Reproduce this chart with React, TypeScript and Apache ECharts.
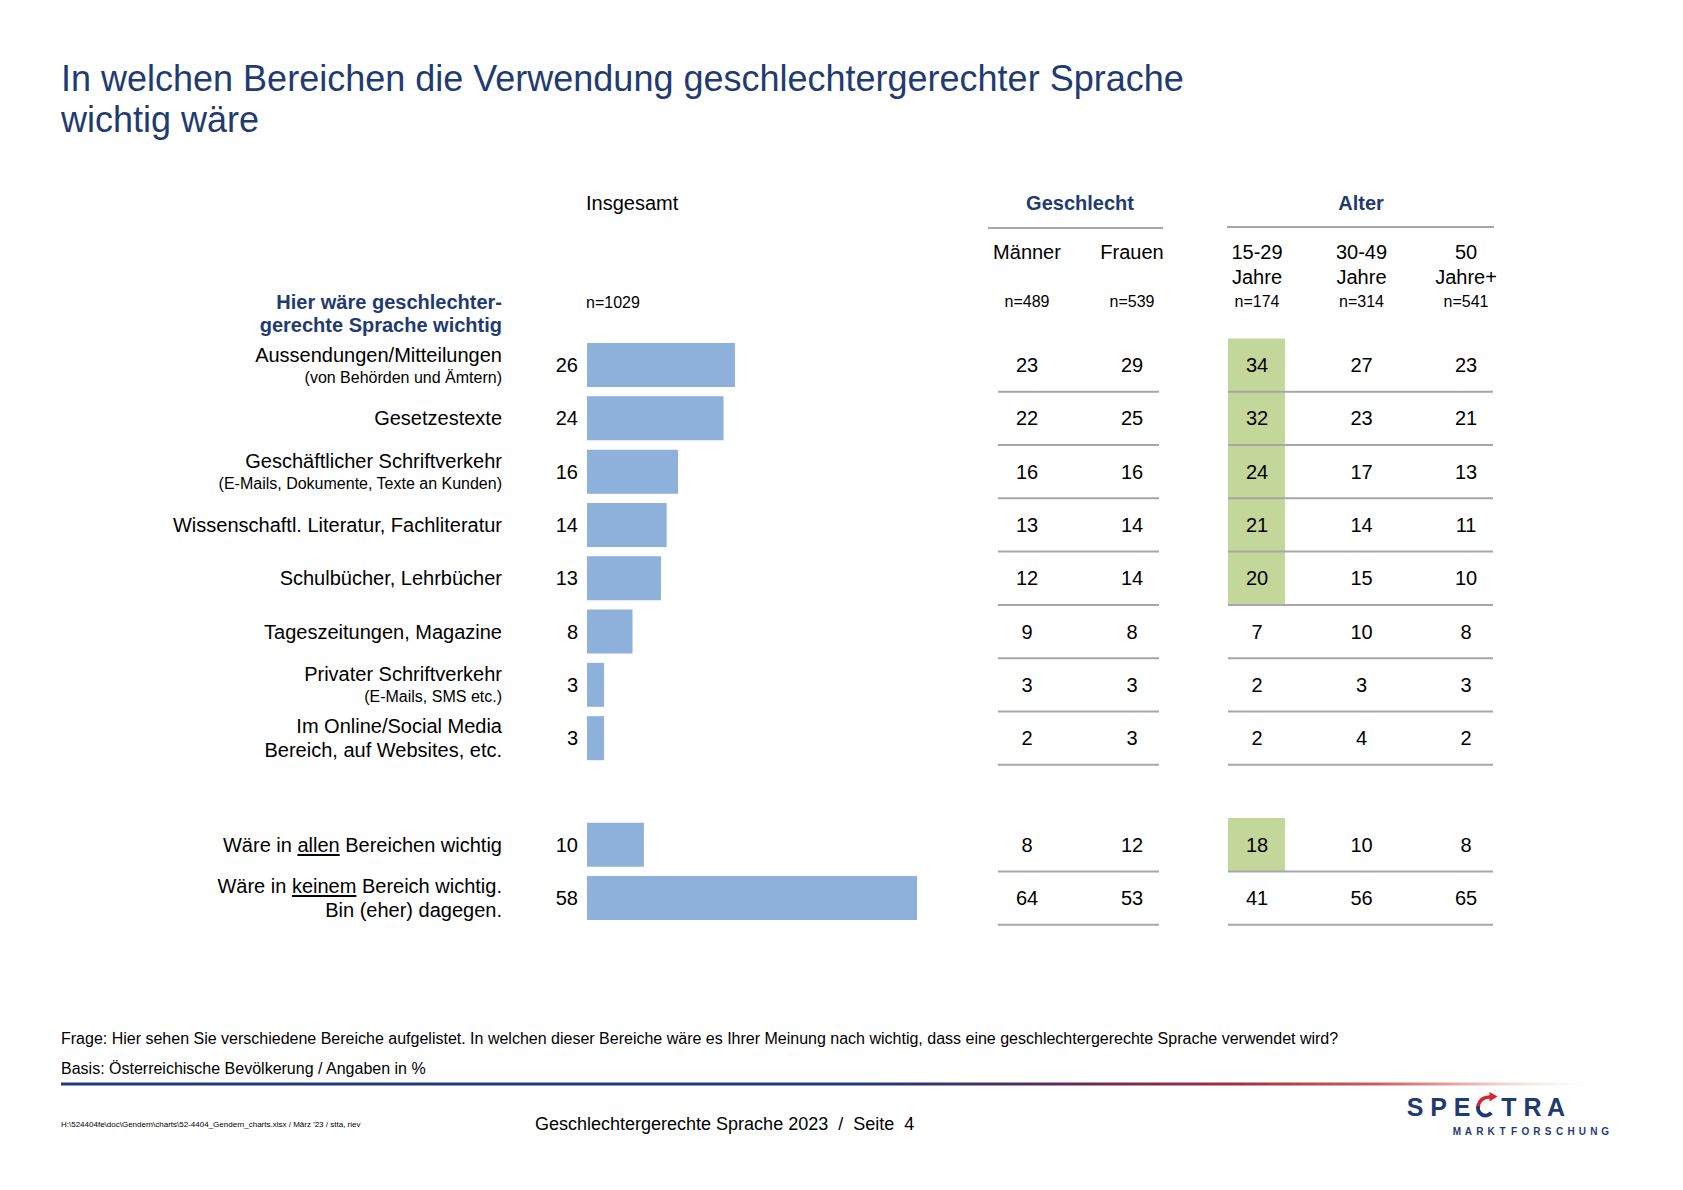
import React, { useEffect, useRef } from 'react';
import * as echarts from 'echarts';

const FONT = '"Liberation Sans", Arial, Helvetica, sans-serif';
const NAVY = '#1f3b72';
const BAR = '#8db1da';
const GREEN = '#c4d79b';
const RULE = '#a6a6a6';

// ---- data ----
const rowMain: string[][] = [
  ['Aussendungen/Mitteilungen'],
  ['Gesetzestexte'],
  ['Geschäftlicher Schriftverkehr'],
  ['Wissenschaftl. Literatur, Fachliteratur'],
  ['Schulbücher, Lehrbücher'],
  ['Tageszeitungen, Magazine'],
  ['Privater Schriftverkehr'],
  ['Im Online/Social Media', 'Bereich, auf Websites, etc.'],
  [],
  ['Wäre in _allen_ Bereichen wichtig'],
  ['Wäre in _keinem_ Bereich wichtig.', 'Bin (eher) dagegen.'],
];
const rowNote: string[] = [
  '(von Behörden und Ämtern)', '', '(E-Mails, Dokumente, Texte an Kunden)', '', '', '',
  '(E-Mails, SMS etc.)', '', '', '', '',
];
const categories = rowMain.map((l) => l.join(' ').replace(/_/g, ''));

const insgesamt = [26, 24, 16, 14, 13, 8, 3, 3, null, 10, 58];
const maenner = [23, 22, 16, 13, 12, 9, 3, 2, null, 8, 64];
const frauen = [29, 25, 16, 14, 14, 8, 3, 3, null, 12, 53];
const age1529 = [34, 32, 24, 21, 20, 7, 2, 2, null, 18, 41];
const age3049 = [27, 23, 17, 14, 15, 10, 3, 4, null, 10, 56];
const age50 = [23, 21, 13, 11, 10, 8, 3, 2, null, 8, 65];
const highlight1529 = [1, 1, 1, 1, 1, 0, 0, 0, 0, 1, 0];

const genderCols = ['Männer', 'Frauen'];
const genderN = ['n=489', 'n=539'];
const ageCols = ['15-29\nJahre', '30-49\nJahre', '50\nJahre+'];
const ageN = ['n=174', 'n=314', 'n=541'];
const totalN = 'n=1029';

const NB = '\u00a0';

function lineToRich(line: string, tag: string) {
  const parts = line.split('_');
  return parts
    .map((p, i) => {
      if (!p) return '';
      const t = p.replace(/ /g, NB);
      return i % 2 === 1 ? `{u|${t}}` : `{${tag}|${t}}`;
    })
    .join('');
}

function rowLabel(_v: string, idx: number) {
  const lines = rowMain[idx] || [];
  const out = lines.map((l) => lineToRich(l, 'm'));
  if (rowNote[idx]) out.push(`{s|${rowNote[idx]}}`);
  return out.join('\n');
}

function colLabel(nArr: string[]) {
  return (v: string, idx: number) => {
    const parts = v.split('\n');
    const l1 = parts[0];
    const l2 = parts[1] || NB;
    return `{h|${l1}}\n{h|${l2}}\n{n|${nArr[idx]}}`;
  };
}

function tableData(cols: (number | null)[][]) {
  const out: number[][] = [];
  for (let r = 0; r < categories.length; r++) {
    cols.forEach((col, c) => {
      const v = col[r];
      if (v !== null && v !== undefined) out.push([c, r, v]);
    });
  }
  return out;
}

function valuesRenderer(ncols: number) {
  return (_params: any, api: any) => {
    const c = api.value(0);
    const r = api.value(1);
    const v = api.value(2);
    const p = api.coord([c, r]);
    const sz = api.size([1, 1]);
    const bw = sz[0];
    const bh = sz[1];
    const children: any[] = [];
    if (c === 0) {
      children.push({
        type: 'line',
        shape: { x1: p[0] - 29, y1: p[1] + bh / 2, x2: p[0] + (ncols - 1) * bw + 27, y2: p[1] + bh / 2 },
        style: { stroke: RULE, lineWidth: 2 },
      });
    }
    children.push({
      type: 'text',
      x: p[0],
      y: p[1],
      style: {
        text: String(v),
        fill: '#000',
        fontSize: 20,
        fontFamily: FONT,
        align: 'center',
        verticalAlign: 'middle',
      },
    });
    return { type: 'group', children };
  };
}

function cellsRenderer(_params: any, api: any) {
  const c = api.value(0);
  const r = api.value(1);
  const p = api.coord([c, r]);
  const bh = api.size([1, 1])[1];
  return {
    type: 'rect',
    shape: { x: p[0] - 29, y: p[1] - bh / 2, width: 57, height: bh },
    style: { fill: GREEN },
  };
}

const underlineBg = {
  type: 'linear',
  x: 0,
  y: 0,
  x2: 0,
  y2: 1,
  colorStops: [
    { offset: 0, color: 'rgba(0,0,0,0)' },
    { offset: 0.89, color: 'rgba(0,0,0,0)' },
    { offset: 0.89, color: '#000' },
    { offset: 0.95, color: '#000' },
    { offset: 0.95, color: 'rgba(0,0,0,0)' },
    { offset: 1, color: 'rgba(0,0,0,0)' },
  ],
};

const GRID_TOP = 338.4;
const GRID_H = 586.3;

function buildOption() {
  const headerRich = {
    h: { fontSize: 20, lineHeight: 25, color: '#000', fontFamily: FONT, align: 'center' },
    n: { fontSize: 16, lineHeight: 25, color: '#000', fontFamily: FONT, align: 'center' },
  };
  const hiddenCatX = (gridIndex: number, data: string[], nArr: string[]) => ({
    gridIndex,
    type: 'category',
    position: 'top',
    data,
    axisLine: { show: false },
    axisTick: { show: false },
    splitLine: { show: false },
    axisLabel: {
      interval: 0,
      margin: 24,
      verticalAlign: 'bottom',
      formatter: colLabel(nArr),
      rich: headerRich,
    },
  });
  const hiddenCatY = (gridIndex: number) => ({
    gridIndex,
    type: 'category',
    inverse: true,
    data: categories,
    show: false,
  });

  const logoLetters = ['S', 'P', 'E', '', 'T', 'R', 'A'];
  const logoGraphics: any[] = [];
  logoLetters.forEach((ch, i) => {
    if (!ch) return;
    logoGraphics.push({
      type: 'text',
      x: 1415 + 23.5 * i,
      y: 1107,
      style: { text: ch, fill: NAVY, fontSize: 25, fontWeight: 'bold', fontFamily: FONT, align: 'center', verticalAlign: 'middle' },
    });
  });
  const cx = 1415 + 23.5 * 3;
  const cy = 1108;
  logoGraphics.push({
    type: 'arc',
    shape: { cx, cy, r: 7.5, startAngle: 0.7, endAngle: 3.5, clockwise: true },
    style: { stroke: NAVY, lineWidth: 4, fill: 'none' },
  });
  logoGraphics.push({
    type: 'bezierCurve',
    shape: { x1: cx - 7.5, y1: cy - 2, cpx1: cx - 5, cpy1: cy - 12, x2: cx + 6, y2: cy - 11 },
    style: { stroke: '#d7262e', lineWidth: 3.5, fill: 'none' },
  });
  logoGraphics.push({
    type: 'polygon',
    shape: { points: [[cx + 4, cy - 16], [cx + 12, cy - 11.5], [cx + 4, cy - 6.5]] },
    style: { fill: '#d7262e' },
  });
  'MARKTFORSCHUNG'.split('').forEach((ch, i) => {
    logoGraphics.push({
      type: 'text',
      x: 1457 + 11.4 * i,
      y: 1131,
      style: { text: ch, fill: NAVY, fontSize: 10, fontWeight: 'bold', fontFamily: FONT, align: 'center', verticalAlign: 'middle' },
    });
  });

  return {
    animation: false,
    backgroundColor: '#ffffff',
    textStyle: { fontFamily: FONT },
    grid: [
      { left: 587, top: GRID_TOP, width: 341.4, height: GRID_H },
      { left: 974.5, top: GRID_TOP, width: 210, height: GRID_H },
      { left: 1204.75, top: GRID_TOP, width: 313.5, height: GRID_H },
    ],
    xAxis: [
      { gridIndex: 0, type: 'value', min: 0, max: 60, show: false },
      hiddenCatX(1, genderCols, genderN),
      hiddenCatX(2, ageCols, ageN),
    ],
    yAxis: [
      {
        gridIndex: 0,
        type: 'category',
        inverse: true,
        data: categories,
        axisLine: { show: false },
        axisTick: { show: false },
        splitLine: { show: false },
        axisLabel: {
          interval: 0,
          margin: 85,
          align: 'right',
          formatter: rowLabel,
          rich: {
            m: { fontSize: 20, lineHeight: 24, color: '#000', fontFamily: FONT, align: 'right' },
            s: { fontSize: 16, lineHeight: 21, color: '#000', fontFamily: FONT, align: 'right' },
            u: {
              fontSize: 20,
              lineHeight: 24,
              height: 24,
              color: '#000',
              fontFamily: FONT,
              align: 'right',
              backgroundColor: underlineBg,
            },
          },
        },
      },
      hiddenCatY(1),
      hiddenCatY(2),
    ],
    series: [
      {
        type: 'bar',
        xAxisIndex: 0,
        yAxisIndex: 0,
        data: insgesamt,
        barWidth: 44,
        itemStyle: { color: BAR },
        label: {
          show: true,
          position: 'left',
          distance: 9,
          fontSize: 20,
          color: '#000',
          fontFamily: FONT,
        },
        silent: true,
      },
      {
        type: 'custom',
        name: 'cells',
        xAxisIndex: 2,
        yAxisIndex: 2,
        z: 1,
        data: highlight1529
          .map((h, r) => (h ? [0, r, 1] : null))
          .filter((d) => d !== null),
        renderItem: cellsRenderer,
        silent: true,
      },
      {
        type: 'custom',
        name: 'Geschlecht',
        xAxisIndex: 1,
        yAxisIndex: 1,
        z: 3,
        data: tableData([maenner, frauen]),
        renderItem: valuesRenderer(2),
        silent: true,
      },
      {
        type: 'custom',
        name: 'Alter',
        xAxisIndex: 2,
        yAxisIndex: 2,
        z: 3,
        data: tableData([age1529, age3049, age50]),
        renderItem: valuesRenderer(3),
        silent: true,
      },
    ],
    graphic: [
      {
        type: 'text',
        x: 61,
        y: 57.5,
        style: {
          text: 'In welchen Bereichen die Verwendung geschlechtergerechter Sprache\nwichtig wäre',
          fill: NAVY,
          fontSize: 36,
          lineHeight: 41,
          fontFamily: FONT,
          align: 'left',
          verticalAlign: 'top',
        },
      },
      {
        type: 'text',
        x: 586,
        y: 203,
        style: { text: 'Insgesamt', fill: '#000', fontSize: 20, fontFamily: FONT, align: 'left', verticalAlign: 'middle' },
      },
      {
        type: 'text',
        x: 586,
        y: 302,
        style: { text: totalN, fill: '#000', fontSize: 16, fontFamily: FONT, align: 'left', verticalAlign: 'middle' },
      },
      {
        type: 'text',
        x: 1080,
        y: 203,
        style: { text: 'Geschlecht', fill: NAVY, fontSize: 20, fontWeight: 'bold', fontFamily: FONT, align: 'center', verticalAlign: 'middle' },
      },
      {
        type: 'text',
        x: 1361,
        y: 203,
        style: { text: 'Alter', fill: NAVY, fontSize: 20, fontWeight: 'bold', fontFamily: FONT, align: 'center', verticalAlign: 'middle' },
      },
      { type: 'line', shape: { x1: 988, y1: 228, x2: 1163, y2: 228 }, style: { stroke: RULE, lineWidth: 2 } },
      { type: 'line', shape: { x1: 1227, y1: 227, x2: 1494, y2: 227 }, style: { stroke: RULE, lineWidth: 2 } },
      {
        type: 'text',
        x: 502,
        y: 313.5,
        style: {
          text: 'Hier wäre geschlechter-\ngerechte Sprache wichtig',
          fill: NAVY,
          fontSize: 20,
          lineHeight: 23,
          fontWeight: 'bold',
          fontFamily: FONT,
          align: 'right',
          verticalAlign: 'middle',
        },
      },
      {
        type: 'text',
        x: 61,
        y: 1038,
        style: {
          text: 'Frage: Hier sehen Sie verschiedene Bereiche aufgelistet. In welchen dieser Bereiche wäre es Ihrer Meinung nach wichtig, dass eine geschlechtergerechte Sprache verwendet wird?',
          fill: '#000',
          fontSize: 16,
          fontFamily: FONT,
          align: 'left',
          verticalAlign: 'middle',
        },
      },
      {
        type: 'text',
        x: 61,
        y: 1068,
        style: { text: 'Basis: Österreichische Bevölkerung / Angaben in %', fill: '#000', fontSize: 16, fontFamily: FONT, align: 'left', verticalAlign: 'middle' },
      },
      {
        type: 'rect',
        shape: { x: 61, y: 1082.5, width: 1549, height: 3 },
        style: {
          fill: new echarts.graphic.LinearGradient(0, 0, 1, 0, [
            { offset: 0, color: '#1f3b72' },
            { offset: 0.52, color: '#223a70' },
            { offset: 0.64, color: '#5a2c5a' },
            { offset: 0.76, color: '#a3303f' },
            { offset: 0.85, color: '#c9605c' },
            { offset: 0.93, color: '#f0d4cc' },
            { offset: 1, color: 'rgba(255,255,255,0)' },
          ]),
        },
      },
      {
        type: 'text',
        x: 61,
        y: 1124,
        style: {
          text: "H:\\524404fe\\doc\\Gendern\\charts\\52-4404_Gendern_charts.xlsx / März '23 / stta, riev",
          fill: '#000',
          fontSize: 8,
          fontFamily: FONT,
          align: 'left',
          verticalAlign: 'middle',
        },
      },
      {
        type: 'text',
        x: 535,
        y: 1124,
        style: {
          text: 'Geschlechtergerechte Sprache 2023  /  Seite  4',
          fill: '#000',
          fontSize: 18,
          fontFamily: FONT,
          align: 'left',
          verticalAlign: 'middle',
        },
      },
      ...logoGraphics,
    ],
  };
}

export default function App() {
  const ref = useRef<HTMLDivElement>(null);
  useEffect(() => {
    document.body.style.margin = '0';
    if (!ref.current) return;
    const chart = echarts.init(ref.current, null, { renderer: 'svg' });
    chart.setOption(buildOption() as any);
    return () => {
      chart.dispose();
    };
  }, []);
  return <div ref={ref} style={{ width: 1683, height: 1190, background: '#fff' }} />;
}
